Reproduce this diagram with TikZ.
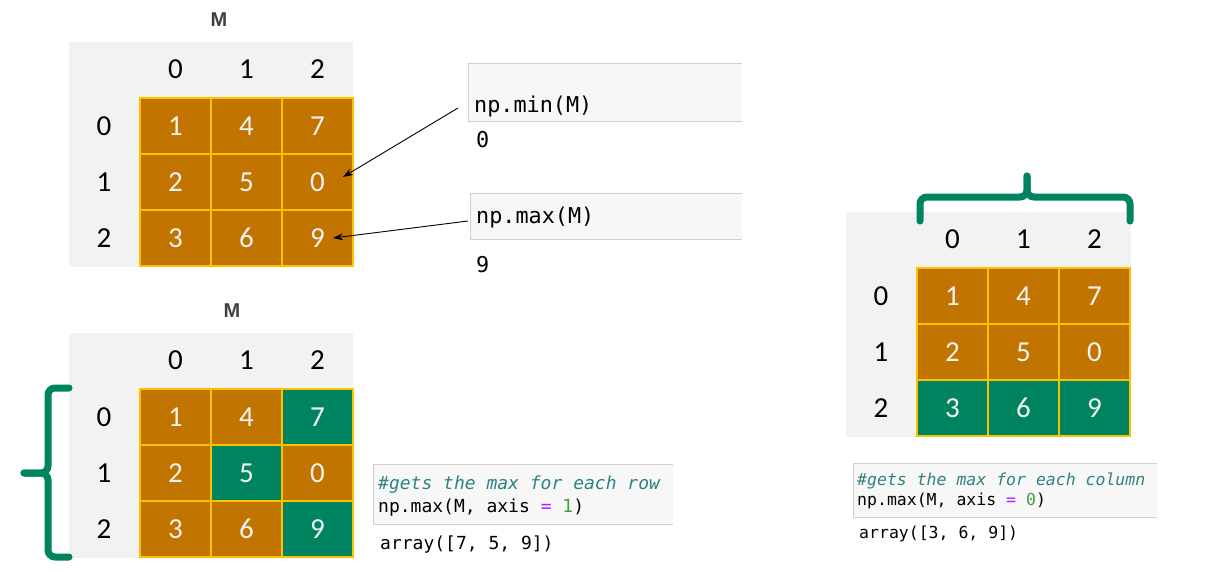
\documentclass[tikz,border=0pt]{standalone}
\usepackage{fontspec}
\setmainfont{Carlito}
\setmonofont{DejaVu Sans Mono}[ItalicFont={DejaVu Sans Mono Oblique}]
\newfontfamily\labfont{Liberation Sans}
\usetikzlibrary{arrows.meta}
\definecolor{co}{HTML}{C17400}
\definecolor{cg}{HTML}{008460}
\definecolor{gold}{HTML}{FFC000}
\definecolor{bggray}{HTML}{F2F2F2}
\definecolor{codebg}{HTML}{F7F7F7}
\definecolor{codeline}{HTML}{CFCFCF}
\definecolor{ccomment}{HTML}{2F8282}
\definecolor{cpurple}{HTML}{AA22FF}
\definecolor{cnum}{HTML}{3FA03F}
\definecolor{mgray}{HTML}{404040}
\tikzset{
  cell/.style={draw=gold, line width=1.5pt, minimum width=71, minimum height=56, inner sep=0pt, text=white!95!black, font=\fontsize{29}{32}\selectfont},
  lab/.style={inner sep=0pt, text=black, font=\fontsize{29}{32}\selectfont},
  bgbox/.style={fill=bggray, inner sep=0pt, anchor=north west},
  mlabel/.style={inner sep=0pt, text=mgray, font=\labfont\bfseries\fontsize{20}{22}\selectfont},
  codebox/.style={fill=codebg, inner sep=0pt, anchor=north west},
  codeedge/.style={draw=codeline, line width=1pt},
  code/.style={inner sep=0pt, anchor=base west, text=black},
  arr/.style={-{Stealth[length=10pt,width=7pt]}, line width=0.9pt, black},
  brace/.style={draw=cg, line width=7pt, rounded corners=7pt, line cap=round}
}
\newcommand\mygrid[4]{%
  \foreach \r/\vals in {#4} {%
    \foreach \v/\f [count=\c from 0] in \vals {%
      \node[cell, fill=c\f] (#1-\r-\c) at ({#2+35.5+71*\c},{#3+28+56*\r}) {\v};
    }%
  }%
  \foreach \c in {0,1,2} {%
    \node[lab] (#1-h\c) at ({#2+35.5+71*\c},{#3-29}) {\c};
    \node[lab] (#1-r\c) at ({#2-36},{#3+28+56*\c}) {\c};
  }%
}
\begin{document}
\begin{tikzpicture}[x=1pt,y=-1pt]
\useasboundingbox (0,0) rectangle (1221,571);
\fill[white] (0,0) rectangle (1221,571);

% ---------- top-left matrix ----------
\node[mlabel] (mtop) at (219,20) {M};
\node[bgbox, minimum width=284, minimum height=225] (tbg) at (69,42) {};
\mygrid{t}{140}{98}{0/{1/o,4/o,7/o},1/{2/o,5/o,0/o},2/{3/o,6/o,9/o}}

% ---------- np.min / np.max boxes ----------
\node[codebox, minimum width=274, minimum height=58] (minbox) at (468,63) {};
\draw[codeedge] (minbox.north east) -- (minbox.north west) -- (minbox.south west) -- (minbox.south east);
\node[code, font=\ttfamily\fontsize{21.8}{24}\selectfont] (mintxt) at (474,112) {np.min(M)};
\node[code, font=\ttfamily\fontsize{21.8}{24}\selectfont] (minout) at (476,147) {0};

\node[codebox, minimum width=272, minimum height=46] (maxbox) at (470,193) {};
\draw[codeedge] (maxbox.north east) -- (maxbox.north west) -- (maxbox.south west) -- (maxbox.south east);
\node[code, font=\ttfamily\fontsize{21.8}{24}\selectfont] (maxtxt) at (476,223) {np.max(M)};
\node[code, font=\ttfamily\fontsize{21.8}{24}\selectfont] (maxout) at (476,272) {9};

\coordinate (minfrom) at (458,108);
\coordinate (mintip) at (343,177);
\coordinate (maxfrom) at (468,221);
\coordinate (maxtip) at (333,238);
\draw[arr] (minfrom) -- (mintip);
\draw[arr] (maxfrom) -- (maxtip);

% ---------- bottom-left matrix ----------
\node[mlabel] (mbot) at (232,311) {M};
\node[bgbox, minimum width=284, minimum height=225] (bbg) at (69,333) {};
\mygrid{b}{140}{389}{0/{1/o,4/o,7/g},1/{2/o,5/g,0/o},2/{3/o,6/o,9/g}}

\draw[brace] (69,388) -- (48,388) -- (48,473) -- (24,473);
\draw[brace] (24,473) -- (48,473) -- (48,557) -- (69,557);

\node[codebox, minimum width=300, minimum height=60] (rowbox) at (373,464) {};
\draw[codeedge] (rowbox.north east) -- (rowbox.north west) -- (rowbox.south west) -- (rowbox.south east);
\node[code, font=\ttfamily\fontsize{18}{20}\selectfont] (rowc) at (378,489) {\color{ccomment}\itshape \#gets the max for each row};
\node[code, font=\ttfamily\fontsize{18}{20}\selectfont] (rowt) at (378,512) {np.max(M, axis {\color{cpurple}=} {\color{cnum}1})};
\node[code, font=\ttfamily\fontsize{18}{20}\selectfont] (rowo) at (380,549) {array([7, 5, 9])};

% ---------- right matrix ----------
\node[bgbox, minimum width=285, minimum height=225] (rbg) at (846,212) {};
\mygrid{r}{917}{268}{0/{1/o,4/o,7/o},1/{2/o,5/o,0/o},2/{3/g,6/g,9/g}}

\draw[brace] (920,221) -- (920,197) -- (1027,197) -- (1027,176);
\draw[brace] (1027,176) -- (1027,197) -- (1130,197) -- (1130,221);

\node[codebox, minimum width=304, minimum height=54] (colbox) at (853,463) {};
\draw[codeedge] (colbox.north east) -- (colbox.north west) -- (colbox.south west) -- (colbox.south east);
\node[code, font=\ttfamily\fontsize{16.5}{18}\selectfont] (colc) at (857,485) {\color{ccomment}\itshape \#gets the max for each column};
\node[code, font=\ttfamily\fontsize{16.5}{18}\selectfont] (colt) at (857,505) {np.max(M, axis {\color{cpurple}=} {\color{cnum}0})};
\node[code, font=\ttfamily\fontsize{16.5}{18}\selectfont] (colo) at (859,538) {array([3, 6, 9])};
\end{tikzpicture}
\end{document}
